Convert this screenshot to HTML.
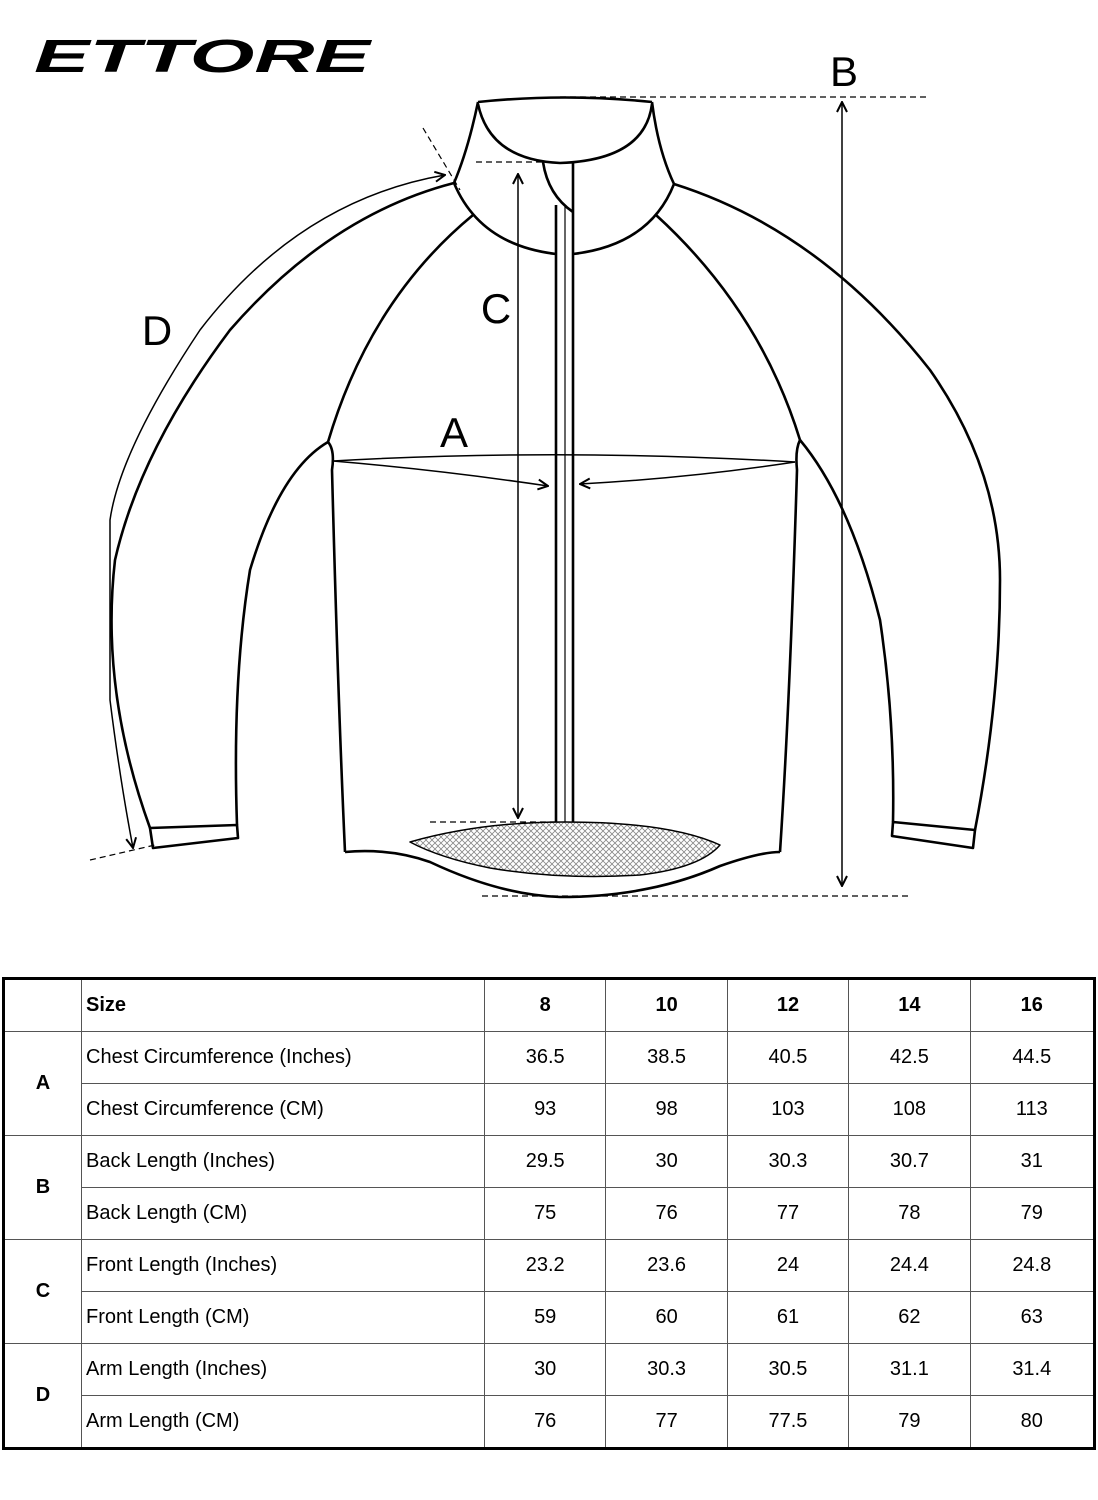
<!DOCTYPE html>
<html><head><style>
body{margin:0;background:#fff;width:1098px;height:1500px;position:relative;overflow:hidden;font-family:"Liberation Sans",Arial,sans-serif}
svg{position:absolute;left:0;top:0}
table{position:absolute;left:2px;top:977px;width:1094px;border-collapse:collapse;border:3px solid #000}
td{border:1px solid #555;height:51px;padding:0;font-size:20px;text-align:center}
td.l{text-align:left;padding-left:4px}
td.k{font-weight:bold;width:76px}
tr:first-child td{font-weight:bold}
</style></head><body>
<svg width="1098" height="960" viewBox="0 0 1098 960">
<defs>
<pattern id="m" width="6" height="6" patternUnits="userSpaceOnUse"><path d="M0 0L6 6M6 0L0 6" stroke="#888" stroke-width="0.8"/></pattern>
<marker id="ar" viewBox="0 0 12 12" refX="11" refY="6" markerWidth="12" markerHeight="12" markerUnits="userSpaceOnUse" orient="auto-start-reverse"><path d="M1 1L11 6L1 11" fill="none" stroke="#000" stroke-width="2"/></marker>
</defs>
<text x="34" y="72" font-family="Liberation Sans" font-weight="bold" font-style="italic" font-size="46" textLength="336" lengthAdjust="spacingAndGlyphs">ETTORE</text>
<g fill="none" stroke="#000" stroke-width="2.6" stroke-linejoin="round">
<!-- collar -->
<path d="M478 102Q565 93 652 102"/>
<path d="M478 104Q490 160 560 163Q645 160 652 104"/>
<path d="M478 102Q468 150 454 183"/>
<path d="M652 102Q658 150 674 184"/>
<path d="M454 183Q480 245 556 254"/>
<path d="M573 254Q650 245 674 184"/>
<!-- raglan -->
<path d="M473 215Q370 300 328 442"/>
<path d="M656 215Q760 310 800 440"/>
<!-- left sleeve -->
<path d="M454 183Q330 215 230 330Q140 450 115 560Q100 690 150 828"/>
<path d="M150 828L237 825L238 838L153 848Z"/>
<path d="M328 442Q280 470 250 570Q232 680 237 825"/>
<!-- right sleeve -->
<path d="M674 184Q820 230 930 370Q1000 470 1000 580Q1000 700 975 830"/>
<path d="M893 822L975 830L973 848L892 836Z"/>
<path d="M800 440Q850 500 880 620Q895 720 893 822"/>
<!-- body -->
<path d="M328 442Q335 450 332 470Q338 700 345 852"/>
<path d="M800 440Q795 450 797 470Q790 700 780 852"/>
<path d="M345 852Q390 848 430 862Q500 895 560 897Q650 897 720 866Q760 852 780 852"/>
<path d="M410 842Q480 822 565 822Q670 822 720 845Q700 868 640 875Q560 880 490 868Q440 858 410 842Z" fill="url(#m)" stroke-width="1.5"/>
<!-- zipper -->
<path d="M556 205V822M573 162V822"/>
<path d="M565 205V822" stroke-width="1.2"/>
<path d="M543 162Q548 195 573 212"/>
</g>
<g stroke="#000" stroke-width="1.2" fill="none" stroke-dasharray="6,4">
<path d="M560 97H930M482 896H910M476 162H545M430 822H555M423 128L460 190M90 860L155 845"/>
</g>
<g stroke="#000" stroke-width="1.5" fill="none">
<path d="M842 102V886" marker-start="url(#ar)" marker-end="url(#ar)"/>
<path d="M518 174V818" marker-start="url(#ar)" marker-end="url(#ar)"/>
<path d="M333 461Q560 448 795 462"/>
<path d="M333 461Q440 470 548 486" marker-end="url(#ar)"/>
<path d="M795 462Q690 478 580 484" marker-end="url(#ar)"/>
<path d="M445 175Q300 200 200 330Q120 450 110 520L110 700Q120 780 133 848" marker-start="url(#ar)" marker-end="url(#ar)"/>
</g>
<g font-family="Liberation Sans" font-size="42" text-anchor="middle">
<text x="844" y="86">B</text><text x="496" y="323">C</text><text x="454" y="447">A</text><text x="157" y="345">D</text>
</g>
</svg>
<table>
<tr><td class="k"></td><td class="l">Size</td><td>8</td><td>10</td><td>12</td><td>14</td><td>16</td></tr>
<tr><td class="k" rowspan="2">A</td><td class="l">Chest Circumference (Inches)</td><td>36.5</td><td>38.5</td><td>40.5</td><td>42.5</td><td>44.5</td></tr>
<tr><td class="l">Chest Circumference (CM)</td><td>93</td><td>98</td><td>103</td><td>108</td><td>113</td></tr>
<tr><td class="k" rowspan="2">B</td><td class="l">Back Length (Inches)</td><td>29.5</td><td>30</td><td>30.3</td><td>30.7</td><td>31</td></tr>
<tr><td class="l">Back Length (CM)</td><td>75</td><td>76</td><td>77</td><td>78</td><td>79</td></tr>
<tr><td class="k" rowspan="2">C</td><td class="l">Front Length (Inches)</td><td>23.2</td><td>23.6</td><td>24</td><td>24.4</td><td>24.8</td></tr>
<tr><td class="l">Front Length (CM)</td><td>59</td><td>60</td><td>61</td><td>62</td><td>63</td></tr>
<tr><td class="k" rowspan="2">D</td><td class="l">Arm Length (Inches)</td><td>30</td><td>30.3</td><td>30.5</td><td>31.1</td><td>31.4</td></tr>
<tr><td class="l">Arm Length (CM)</td><td>76</td><td>77</td><td>77.5</td><td>79</td><td>80</td></tr>
</table>
<style>td:nth-child(n){}
tr td.l{width:398px}
</style>
</body></html>
